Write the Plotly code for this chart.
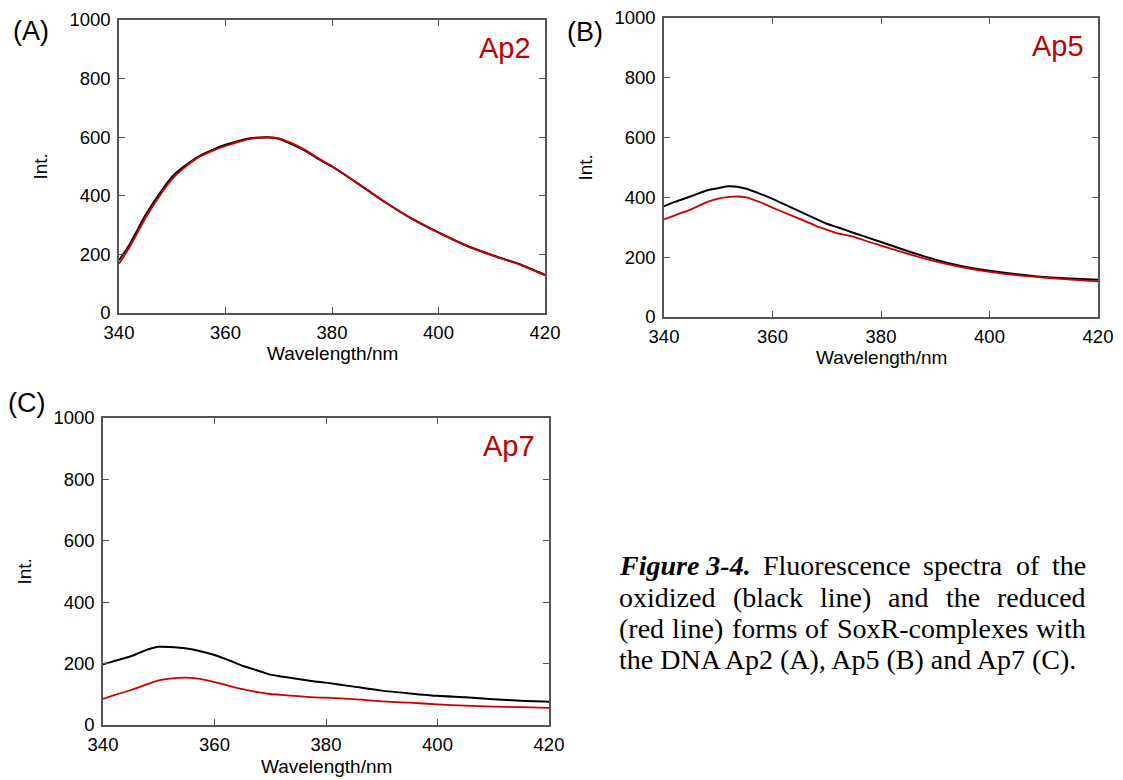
import plotly.graph_objects as go

W, H = 1123, 780

wavelength = [340, 342, 345, 348, 350, 352, 355, 358, 360, 363, 365, 368, 370,
              372, 375, 378, 380, 385, 390, 395, 400, 405, 410, 415, 420]

ap2_oxidized = [180, 235, 335, 418, 465, 497, 535, 560, 574, 590, 597, 600, 595,
                580, 553, 520, 500, 440, 378, 322, 275, 232, 198, 168, 130]
ap2_reduced = [168, 225, 325, 410, 458, 492, 532, 557, 570, 587, 595, 599, 596,
               583, 556, 522, 501, 441, 378, 321, 274, 231, 197, 167, 129]

ap5_oxidized = [370, 385, 404, 424, 431, 437, 430, 410, 395, 370, 353, 328, 312,
                300, 281, 263, 251, 220, 192, 170, 155, 143, 134, 129, 125]
ap5_reduced = [326, 340, 360, 385, 396, 402, 401, 382, 366, 343, 328, 305, 292,
               280, 268, 250, 239, 211, 186, 166, 151, 140, 132, 125, 119]

ap7_oxidized = [198, 208, 224, 246, 255, 254, 249, 238, 228, 208, 193, 176, 164,
                158, 150, 142, 138, 125, 112, 103, 95, 90, 84, 79, 76]
ap7_reduced = [85, 97, 114, 133, 145, 151, 154, 148, 140, 126, 117, 106, 101,
               98, 94, 90, 89, 84, 77, 73, 67, 63, 60, 58, 56]

x_ticks = [340, 360, 380, 400, 420]
y_ticks = [0, 200, 400, 600, 800, 1000]
panel_names = ["Ap2", "Ap5", "Ap7"]
panel_letters = ["(A)", "(B)", "(C)"]

caption_lines = [
    ["Figure 3-4.", "Fluorescence", "spectra", "of", "the"],
    ["oxidized", "(black", "line)", "and", "the", "reduced"],
    ["(red", "line)", "forms", "of", "SoxR-complexes", "with"],
    ["the DNA Ap2 (A), Ap5 (B) and Ap7 (C)."],
]

BLACK = "#000000"
RED = "#cc0000"
FRAME = "#555555"
SANS = "Liberation Sans, Arial, sans-serif"
SERIF = "Liberation Serif, Times New Roman, serif"


def px(x):
    return x / W


def py(y):
    return 1 - y / H


# Times New Roman advance widths (per 1000 em), used to justify the caption
TNR = {' ': 250, 'a': 444, 'b': 500, 'c': 444, 'd': 500, 'e': 444, 'f': 333, 'g': 500,
       'h': 500, 'i': 278, 'j': 278, 'k': 500, 'l': 278, 'm': 778, 'n': 500, 'o': 500,
       'p': 500, 'q': 500, 'r': 333, 's': 389, 't': 278, 'u': 500, 'v': 500, 'w': 722,
       'x': 500, 'y': 500, 'z': 444, 'A': 722, 'B': 667, 'C': 667, 'D': 722, 'F': 556,
       'N': 722, 'R': 667, 'S': 556, '(': 333, ')': 333, '-': 333, '.': 250, ',': 250}
TNR_BI = {'F': 667, 'i': 278, 'g': 500, 'u': 556, 'r': 389, 'e': 444, ' ': 250,
          '-': 333, '.': 250}


def text_width(s, size, bold_italic=False):
    tot = 0
    for ch in s:
        if bold_italic and ch in TNR_BI:
            tot += TNR_BI[ch]
        elif ch.isdigit():
            tot += 500
        else:
            tot += TNR.get(ch, 500)
    return tot * size / 1000.0


# panel boxes in pixels: left, right, top, bottom
boxes = [(119, 545, 20, 313), (664, 1098, 18, 317), (103, 549, 418, 725)]

fig = go.Figure()

series = [(ap2_oxidized, ap2_reduced), (ap5_oxidized, ap5_reduced), (ap7_oxidized, ap7_reduced)]
for i, (ox, red) in enumerate(series):
    sfx = "" if i == 0 else str(i + 1)
    fig.add_trace(go.Scatter(x=wavelength, y=ox, mode="lines",
                             line=dict(color=BLACK, width=2, shape="spline", smoothing=0.6),
                             xaxis="x" + sfx, yaxis="y" + sfx, showlegend=False))
    fig.add_trace(go.Scatter(x=wavelength, y=red, mode="lines",
                             line=dict(color=RED, width=1.8, shape="spline", smoothing=0.6),
                             xaxis="x" + sfx, yaxis="y" + sfx, showlegend=False))

layout = dict(width=W, height=H, margin=dict(l=0, r=0, t=0, b=0),
              paper_bgcolor="white", plot_bgcolor="white", showlegend=False)

axis_common = dict(showgrid=False, zeroline=False, showline=True, linecolor=FRAME,
                   linewidth=1.5, mirror="ticks", ticks="inside", ticklen=6,
                   tickwidth=1.2, tickcolor=FRAME, automargin=False,
                   tickfont=dict(family=SANS, size=18.5, color=BLACK))

annotations = []
for i, (l, r, t, b) in enumerate(boxes):
    sfx = "" if i == 0 else str(i + 1)
    layout["xaxis" + sfx] = dict(axis_common, domain=[px(l), px(r)], range=[340, 420],
                                 tickvals=x_ticks, anchor="y" + sfx, ticklabelstandoff=2)
    layout["yaxis" + sfx] = dict(axis_common, domain=[py(b), py(t)], range=[0, 1000],
                                 tickvals=y_ticks, anchor="x" + sfx, ticklabelstandoff=3)
    annotations.append(dict(text="Wavelength/nm", xref="paper", yref="paper",
                            x=px((l + r) / 2), y=py(b + 41), xanchor="center", yanchor="middle",
                            showarrow=False, font=dict(family=SANS, size=19, color=BLACK)))
    annotations.append(dict(text="Int.", xref="paper", yref="paper",
                            x=px(l - 79), y=py((t + b) / 2), xanchor="center", yanchor="middle",
                            textangle=-90, showarrow=False,
                            font=dict(family=SANS, size=19, color=BLACK)))
    annotations.append(dict(text=panel_names[i], xref="paper", yref="paper",
                            x=px(r - 12), y=py(t + 28), xanchor="right", yanchor="middle",
                            showarrow=False, font=dict(family=SANS, size=29, color="#c00000")))

letter_pos = [(31, 31), (585, 32), (26, 403)]
for (lx, ly), txt in zip(letter_pos, panel_letters):
    annotations.append(dict(text=txt, xref="paper", yref="paper", x=px(lx), y=py(ly),
                            xanchor="center", yanchor="middle", showarrow=False,
                            font=dict(family=SANS, size=27, color=BLACK)))

# caption, justified between x0 and x1
CAP_SIZE = 28
x0, x1 = 618, 1085
line_y = [565, 597, 628, 659]
for li, (words, ly) in enumerate(zip(caption_lines, line_y)):
    widths = [text_width(w, CAP_SIZE, bold_italic=(w == "Figure 3-4.")) for w in words]
    if len(words) > 1 and li < len(caption_lines) - 1:
        gap = (x1 - x0 - sum(widths)) / (len(words) - 1)
    else:
        gap = 0
    cx = x0
    for w, wd in zip(words, widths):
        txt = "<b><i>%s</i></b>" % w if w == "Figure 3-4." else w
        annotations.append(dict(text=txt, xref="paper", yref="paper", x=px(cx), y=py(ly),
                                xanchor="left", yanchor="middle", showarrow=False,
                                borderpad=0,
                                font=dict(family=SERIF, size=CAP_SIZE, color=BLACK)))
        cx += wd + gap

layout["annotations"] = annotations
fig.update_layout(**layout)
fig.write_html("out.html")
